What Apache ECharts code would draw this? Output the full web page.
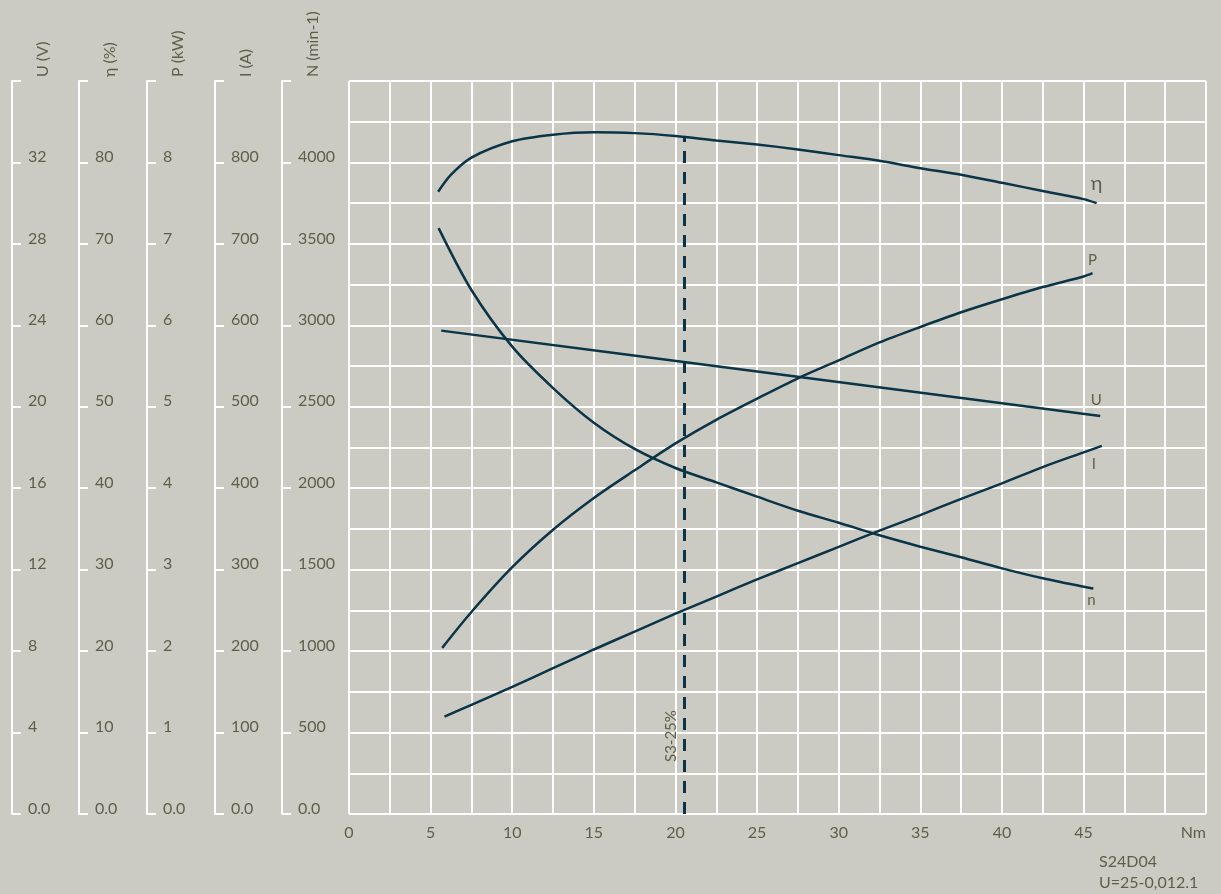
<!DOCTYPE html>
<html>
<head>
<meta charset="utf-8">
<title>S24D04</title>
<script src="https://cdn.jsdelivr.net/npm/echarts@6/dist/echarts.min.js"></script>
<style>
html, body { margin: 0; padding: 0; background: #cbcbc4; }
#chart { width: 1221px; height: 894px; }
</style>
</head>
<body>
<div id="chart"></div>
<script>
// side scales, left to right
const axisNames = ['U (V)', 'η (%)', 'P (kW)', 'I (A)', 'N (min-1)']
const axisMax = [36, 90, 9, 900, 4500]

// curves, torque in Nm
const etaTorque = [5.46, 6.25, 7.5, 10, 12.5, 15, 17.5, 20, 22.5, 25, 27.5, 30, 32.5, 35, 37.5, 40, 42.5, 45, 45.8]
const etaValues = [76.4, 78.5, 80.6, 82.6, 83.4, 83.7, 83.6, 83.25, 82.7, 82.2, 81.6, 80.9, 80.2, 79.3, 78.5, 77.5, 76.5, 75.5, 75.0]

const powerTorque = [5.71, 7.5, 10, 12.5, 15, 17.5, 20, 22.5, 25, 27.5, 30, 32.5, 35, 37.5, 40, 42.5, 45, 45.55]
const powerValues = [2.04, 2.48, 3.03, 3.49, 3.88, 4.22, 4.55, 4.84, 5.10, 5.35, 5.57, 5.79, 5.98, 6.16, 6.32, 6.47, 6.60, 6.64]

const voltTorque = [5.65, 25, 46.02]
const voltValues = [23.74, 21.73, 19.55]

const currentTorque = [5.85, 7.5, 10, 12.5, 15, 17.5, 20, 22.5, 25, 27.5, 30, 32.5, 35, 37.5, 40, 42.5, 45, 46.12]
const currentValues = [119.5, 134, 156, 179, 202, 224, 246, 267, 288, 308, 328, 348, 367, 387, 406, 426, 444, 452]

const speedTorque = [5.49, 7.5, 10, 12.5, 15, 17.5, 20, 22.5, 25, 27.5, 30, 32.5, 35, 37.5, 40, 42.5, 45, 45.6]
const speedValues = [3597, 3217, 2869, 2615, 2402, 2241, 2124, 2036, 1948, 1862, 1788, 1711, 1641, 1576, 1508, 1447, 1395, 1385]

// S3-25% duty point
const s3Torque = 20.55
const s3Eta = 83.2

const textColor = '#5d5f4a'
const curveColor = '#0b3447'
const font = 'Lato'

const chart = echarts.init(document.getElementById('chart'))

function sideAxis(i, offset) {
    const max = axisMax[i]
    return {
        type: 'value',
        position: 'left',
        offset: offset,
        min: 0,
        max: max,
        interval: max / 9,
        name: axisNames[i],
        nameLocation: 'end',
        nameRotate: 90,
        nameGap: 4,
        nameTextStyle: {
            color: textColor, fontSize: 16, fontFamily: font,
            align: 'left', verticalAlign: 'top', padding: [23, 0, 0, 0]
        },
        axisLine: {show: true, onZero: false, lineStyle: {color: '#fff', width: 2}},
        axisTick: {show: true, inside: true, length: 9, lineStyle: {color: '#fff', width: 2}},
        axisLabel: {
            inside: true, margin: 16, color: textColor, fontSize: 16, fontFamily: font,
            verticalAlign: 'bottom', lineHeight: 11,
            formatter: v => v === 0 ? '0.0' : (v >= max ? '' : String(v))
        },
        splitLine: {show: false}
    }
}

function curve(name, xs, ys, axisIndex, labelOpt) {
    const data = xs.map((x, i) => [x, ys[i]])
    const last = data.length - 1
    data[last] = {
        value: data[last],
        symbol: 'circle',
        symbolSize: 1,
        itemStyle: {color: 'rgba(0,0,0,0)'},
        label: Object.assign({show: true, formatter: name, color: textColor, fontFamily: font, fontSize: 15}, labelOpt)
    }
    return {
        type: 'line',
        name: name,
        yAxisIndex: axisIndex,
        data: data,
        symbol: 'none',
        smooth: 0.3,
        lineStyle: {color: curveColor, width: 2.5},
        silent: true,
        z: 3
    }
}

const etaSeries = curve('η', etaTorque, etaValues, 1, {position: 'top', distance: 9, fontSize: 20})
etaSeries.markLine = {
    symbol: ['none', 'none'],
    silent: true,
    lineStyle: {color: curveColor, type: [12, 9], width: 3},
    label: {
        show: true, position: 'insideStartTop', formatter: 'S3-25%',
        color: textColor, fontSize: 15, fontFamily: font, distance: [52, 6]
    },
    data: [[{coord: [s3Torque, 0]}, {coord: [s3Torque, s3Eta]}]]
}

const option = {
    backgroundColor: '#cbcbc4',
    animation: false,
    grid: {left: 349, right: 15, top: 81, bottom: 80},
    xAxis: {
        type: 'value',
        min: 0,
        max: 52.5,
        interval: 2.5,
        name: 'Nm',
        nameLocation: 'end',
        nameGap: 0,
        nameTextStyle: {
            color: textColor, fontSize: 16, fontFamily: font,
            align: 'right', verticalAlign: 'top', padding: [11, 0, 0, 0]
        },
        axisLine: {show: false},
        axisTick: {show: false},
        axisLabel: {
            margin: 11, color: textColor, fontSize: 16, fontFamily: font,
            formatter: v => (v % 5 === 0 && v <= 45) ? String(v) : ''
        },
        splitLine: {show: true, lineStyle: {color: '#fff', width: 2}}
    },
    yAxis: [
        sideAxis(0, 337),
        sideAxis(1, 270),
        sideAxis(2, 202),
        sideAxis(3, 134),
        sideAxis(4, 67),
        {
            // horizontal grid every 250 min-1
            type: 'value',
            position: 'right',
            min: 0,
            max: 4500,
            interval: 250,
            axisLine: {show: false},
            axisTick: {show: false},
            axisLabel: {show: false},
            splitLine: {show: true, lineStyle: {color: '#fff', width: 2}}
        }
    ],
    graphic: [{
        type: 'text',
        left: 1099,
        top: 851,
        style: {text: 'S24D04\nU=25-0,012.1', fill: textColor, font: '16px Lato', lineHeight: 21}
    }],
    series: [
        etaSeries,
        curve('P', powerTorque, powerValues, 2, {position: 'top', distance: 5}),
        curve('U', voltTorque, voltValues, 0, {position: 'top', distance: 8, offset: [-4, 0]}),
        curve('I', currentTorque, currentValues, 3, {position: 'bottom', distance: 10, offset: [-8, 0]}),
        curve('n', speedTorque, speedValues, 4, {position: 'bottom', distance: 4, offset: [-2, 0]})
    ]
}

chart.setOption(option)
window.addEventListener('resize', function () {
    chart.resize()
})
</script>
</body>
</html>
